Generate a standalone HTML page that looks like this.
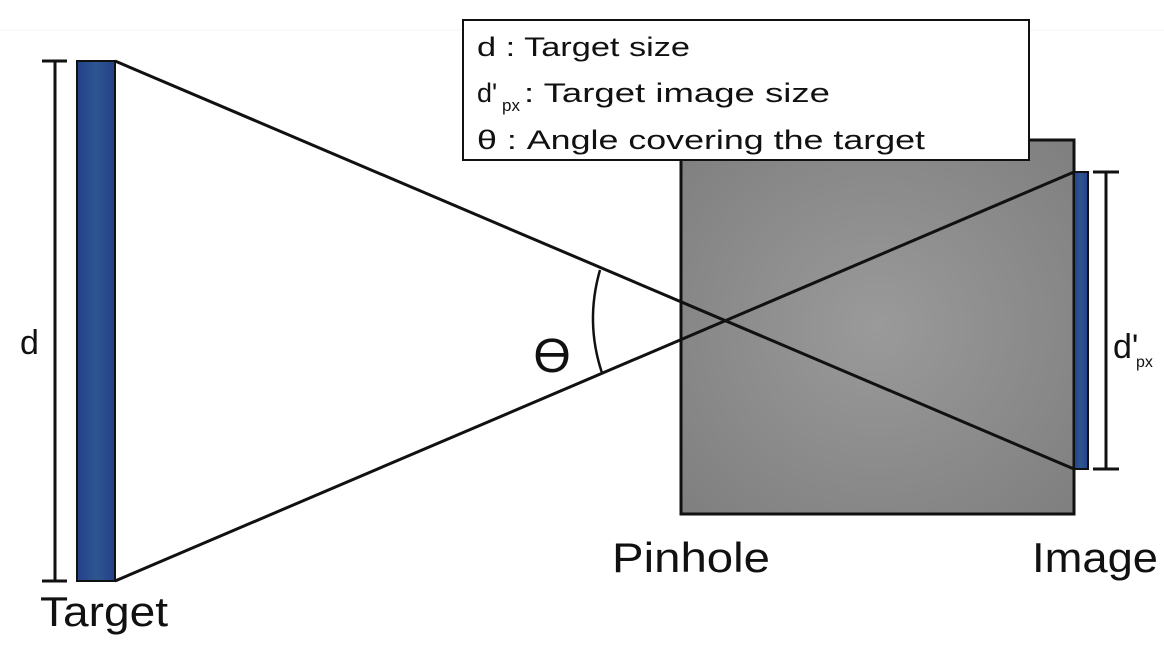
<!DOCTYPE html>
<html><head><meta charset="utf-8"><style>
html,body{margin:0;padding:0;background:#fff;}
svg{display:block;}
text{font-family:"Liberation Sans",sans-serif;fill:#111;}
</style></head><body>
<svg width="1164" height="646" viewBox="0 0 1164 646" xmlns="http://www.w3.org/2000/svg">
<defs>
<radialGradient id="g" cx="0.5" cy="0.5" r="0.7">
<stop offset="0" stop-color="#9a9a9a"/><stop offset="1" stop-color="#7f7f7f"/>
</radialGradient>
<linearGradient id="b" x1="0" x2="1"><stop offset="0" stop-color="#24408a"/><stop offset="0.5" stop-color="#2d5690"/><stop offset="1" stop-color="#24408a"/></linearGradient>
</defs>
<line x1="0" y1="30" x2="1164" y2="30" stroke="#f3f3f3" stroke-width="1"/>
<rect x="681" y="140" width="393" height="374" fill="url(#g)" stroke="#111" stroke-width="3"/>
<rect x="77" y="61" width="38" height="520" fill="url(#b)" stroke="#111" stroke-width="2"/>
<rect x="1074" y="172" width="14" height="297" fill="url(#b)" stroke="#111" stroke-width="2"/>
<g stroke="#111" stroke-width="3" fill="none">
<line x1="115" y1="61" x2="1074" y2="469"/>
<line x1="115" y1="581" x2="1074" y2="172"/>
<line x1="55" y1="61" x2="55" y2="581"/>
<line x1="42" y1="61" x2="67" y2="61"/>
<line x1="42" y1="581" x2="67" y2="581"/>
<line x1="1106" y1="172" x2="1106" y2="469"/>
<line x1="1093" y1="172" x2="1119" y2="172"/>
<line x1="1093" y1="469" x2="1119" y2="469"/>
<path d="M600 270 Q585 322 602 373" stroke-width="2.5"/>
</g>
<rect x="463" y="20" width="566" height="140" fill="#fff" stroke="#111" stroke-width="2"/>
<text x="477" y="56" font-size="27" textLength="213" lengthAdjust="spacingAndGlyphs">d : Target size</text>
<text x="477" y="102" font-size="27">d'</text>
<text x="502" y="111" font-size="17">px</text>
<text x="524" y="102" font-size="27" textLength="306" lengthAdjust="spacingAndGlyphs">: Target image size</text>
<text x="477" y="149" font-size="27" textLength="448" lengthAdjust="spacingAndGlyphs">θ : Angle covering the target</text>
<text x="20" y="354" font-size="34">d</text>
<text x="552" y="372" font-size="48" text-anchor="middle">ϴ</text>
<text x="1113" y="358" font-size="34">d'</text>
<text x="1136" y="367" font-size="16">px</text>
<text x="612" y="572" font-size="42" textLength="158" lengthAdjust="spacingAndGlyphs">Pinhole</text>
<text x="1032" y="572" font-size="42" textLength="126" lengthAdjust="spacingAndGlyphs">Image</text>
<text x="40" y="626" font-size="42" textLength="128" lengthAdjust="spacingAndGlyphs">Target</text>
</svg>
</body></html>
